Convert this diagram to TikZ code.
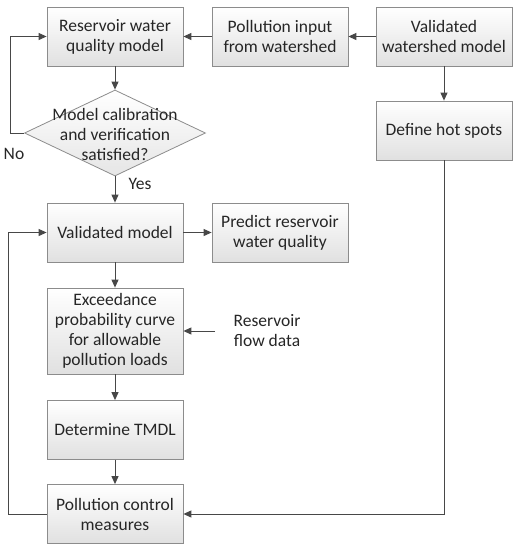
\documentclass[tikz,border=0pt]{standalone}
\usepackage{fontspec}
\setmainfont{Carlito}
\usetikzlibrary{arrows.meta,shapes.geometric}
\begin{document}
\begin{tikzpicture}[x=1pt,y=-1pt,
  txt/.style={font=\fontsize{17.5}{20}\selectfont, text=black!85},
  box/.style={txt, draw=black!45, line width=0.8pt, top color=white, bottom color=black!12,
    minimum width=136pt, minimum height=59pt, align=center, inner sep=0pt},
  dia/.style={txt, diamond, draw=black!45, line width=0.8pt, top color=white, bottom color=black!10,
    minimum width=181pt, minimum height=86pt, align=center, inner sep=0pt},
  lbl/.style={txt, align=center, inner sep=0pt},
  arr/.style={draw=black!72, line width=1pt, -{Triangle[length=8pt,width=7pt]}},
  ln/.style={draw=black!72, line width=1pt}]
\useasboundingbox (0,0) rectangle (517,550);
\node[box] (rwq) at (115,36.5) {Reservoir water\\quality model};
\node[box] (pin) at (280,36.5) {Pollution input\\from watershed};
\node[box] (vwm) at (444,36.5) {Validated\\watershed model};
\node[box] (hot) at (444,130.5) {Define hot spots};
\node[dia, text width=0pt] (cal) at (115,133) {};
\node[lbl] (caltxt) at (115,134) {Model calibration\\and verification\\satisfied?};
\node[box] (vm) at (115,232.5) {Validated model};
\node[box] (pred) at (280,232.5) {Predict reservoir\\water quality};
\node[box, minimum height=86pt] (exc) at (115,331) {Exceedance\\probability curve\\for allowable\\pollution loads};
\node[lbl] (flow) at (267,331) {Reservoir\\flow data};
\node[lbl] (no) at (14,154) {No};
\node[lbl] (yes) at (140,184) {Yes};
\node[box] (tmdl) at (115,430) {Determine TMDL};
\node[box] (pcm) at (115,514) {Pollution control\\measures};
\coordinate (nl) at (10,133);
\coordinate (nt) at (10,36.5);
\coordinate (ll) at (8,514);
\coordinate (lt) at (8,232.5);
\coordinate (rb) at (444,514);
\coordinate (fs) at (215,331);

\draw[arr] (pin.west) -- (rwq.east);
\draw[arr] (vwm.west) -- (pin.east);
\draw[arr] (vwm.south) -- (hot.north);
\draw[arr] (rwq.south) -- (cal.north);
\draw[arr] (cal.west) -- (nl) -- (nt) -- (rwq.west);
\draw[arr] (cal.south) -- (vm.north);
\draw[arr] (vm.east) -- (pred.west);
\draw[arr] (vm.south) -- (exc.north);
\draw[arr] (fs) -- (exc.east);
\draw[arr] (exc.south) -- (tmdl.north);
\draw[arr] (tmdl.south) -- (pcm.north);
\draw[arr] (hot.south) -- (rb) -- (pcm.east);
\draw[arr] (pcm.west) -- (ll) -- (lt) -- (vm.west);
\end{tikzpicture}
\end{document}
